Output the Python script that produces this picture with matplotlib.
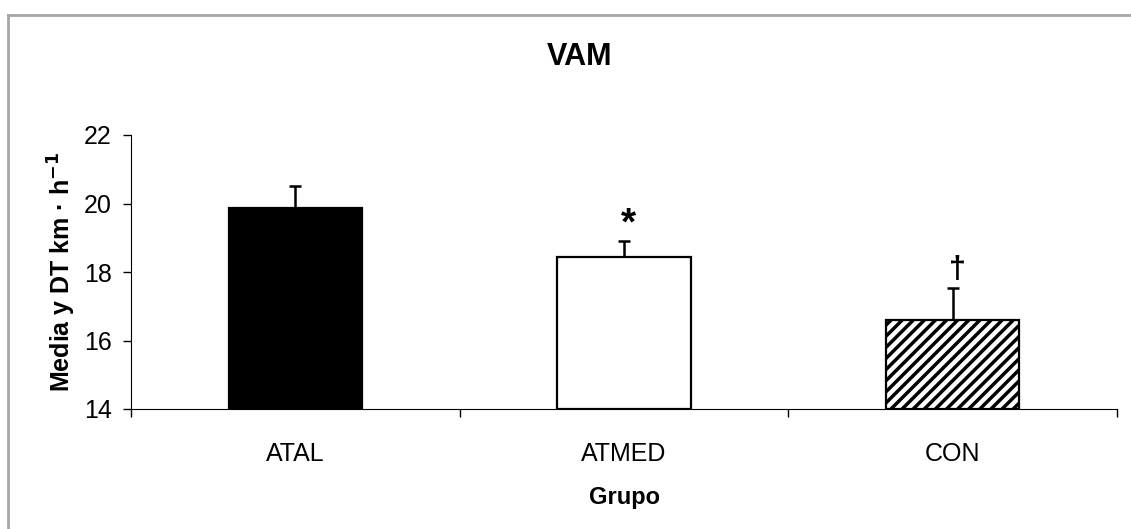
import matplotlib.pyplot as plt
import numpy as np
from matplotlib.lines import Line2D

plt.rcParams['font.family'] = ['Liberation Sans', 'DejaVu Sans']
plt.rcParams['hatch.linewidth'] = 2.5

groups = ['ATAL', 'ATMED', 'CON']
means = [19.87, 18.44, 16.60]
sds = [0.64, 0.47, 0.93]
marks = ['', '*', '†']

W, H = 1131, 529
fig = plt.figure(figsize=(W / 100, H / 100), dpi=100)
ax = fig.add_axes([131 / W, 1 - 409 / H, (1117 - 131) / W, (409 - 135) / H])

x = np.arange(len(groups))
colors = ['black', 'white', 'white']
hatches = [None, None, '///']
bars = ax.bar(x, [m - 14 for m in means], bottom=14, width=0.405,
              color=colors, edgecolor='black', linewidth=1.6, zorder=2)
for b, h in zip(bars, hatches):
    if h:
        b.set_hatch(h)

ax.errorbar(x, means, yerr=[np.zeros(3), sds], fmt='none', ecolor='black',
            elinewidth=1.8, capsize=4.5, capthick=1.8, zorder=1)

mark_size = {'*': 28, '†': 22}
mark_gap = {'*': -0.05, '†': 0.1}
for xi, m, s, t in zip(x, means, sds, marks):
    if t:
        ax.text(xi + 0.015, m + s + mark_gap[t], t, ha='center', va='bottom',
                fontsize=mark_size[t], fontweight='bold')

ax.set_ylim(14, 22)
ax.set_yticks([14, 16, 18, 20, 22])
ax.set_xlim(-0.5, 2.5)
ax.set_xticks([-0.5, 0.5, 1.5, 2.5])
ax.set_xticklabels([])
ax.set_xticks(x, minor=True)
ax.set_xticklabels(groups, minor=True)
ax.tick_params(axis='x', which='minor', length=0, labelsize=18, pad=24)
ax.tick_params(axis='x', which='major', length=6, width=1)
ax.tick_params(axis='y', length=6, width=1, labelsize=18, pad=8)

for side in ['top', 'right']:
    ax.spines[side].set_visible(False)

fig.text(580 / W, 1 - 57 / H, 'VAM', ha='center', va='center',
         fontsize=22, fontweight='bold')
ax.set_xlabel('Grupo', fontsize=17, fontweight='bold', labelpad=14)
ax.set_ylabel('Media y DT km · h$^{\\mathbf{-1}}$', fontsize=18, fontweight='bold', labelpad=4)

# outer chart frame (left and top edges visible)
fig.add_artist(Line2D([8 / W, 8 / W], [0, 1 - 15 / H], transform=fig.transFigure,
                      color='#a6a6a6', linewidth=2))
fig.add_artist(Line2D([8 / W, 1], [1 - 15 / H, 1 - 15 / H], transform=fig.transFigure,
                      color='#a6a6a6', linewidth=2))

fig.savefig('out.png', dpi=100)
